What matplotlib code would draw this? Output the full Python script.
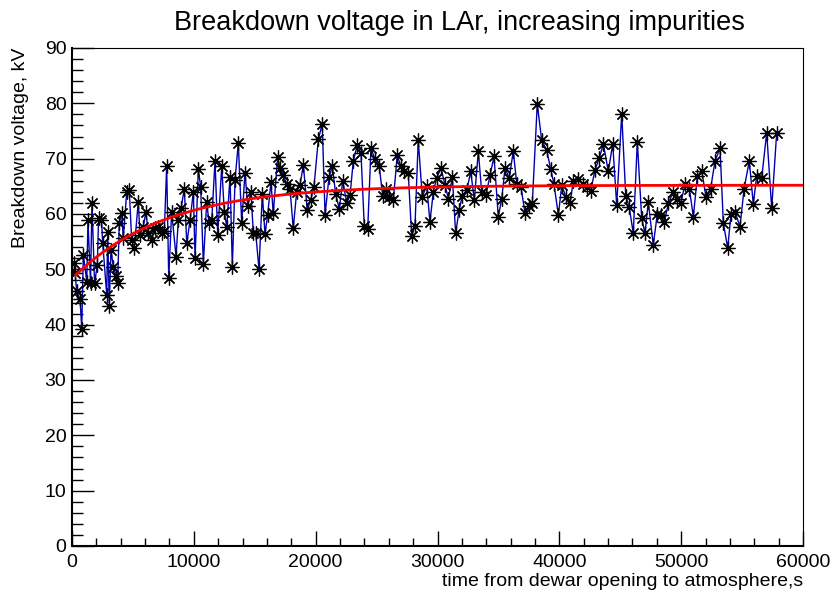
import numpy as np
import matplotlib.pyplot as plt
from matplotlib.ticker import MultipleLocator

plt.rcParams['font.family'] = ['Liberation Sans', 'DejaVu Sans']

# time from dewar opening, s
time_s = [
    160, 250, 390, 660, 800, 930, 1210, 1310, 1520, 1640,
    1850, 2080, 2180, 2420, 2520, 2850, 2930, 3060, 3200, 3390,
    3610, 3750, 3880, 4080, 4210, 4490, 4700, 4900, 5110, 5440,
    5580, 5850, 6070, 6260, 6540, 6810, 7080, 7360, 7580, 7770,
    7940, 8180, 8540, 8730, 8950, 9220, 9420,
    9690, 9960, 10100, 10370, 10560, 10780, 11060, 11250, 11470, 11740,
    11960, 12290, 12500, 12700, 12970, 13160, 13380, 13650, 13930, 14200,
    14420, 14690, 14880, 15080, 15350, 15620, 15840, 16060, 16330, 16520,
    16880, 17070, 17340, 17620, 17890, 18160, 18440, 18710, 18990,
    19310, 19590, 19860, 20220, 20540, 20770, 21090, 21370, 21640, 21940,
    22220, 22550, 22820, 23090, 23420, 23720, 23990, 24270, 24540, 24870,
    25220, 25500, 25770, 26040, 26370, 26700, 26980, 27250, 27600, 27880,
    28150, 28420,
    28750, 29110, 29380, 29660, 29930, 30290, 30620, 30890, 31220, 31490,
    31770, 32040, 32400, 32730, 33020, 33350, 33630, 33980, 34310, 34640,
    34990, 35270, 35540, 35890, 36220, 36500, 36850, 37180, 37510, 37780,
    38190, 38550, 38960, 39290, 39560, 39920, 40200, 40550, 40880, 41150,
    41560, 41920, 42250, 42580, 42930, 43280, 43610, 44020, 44380, 44710,
    45120, 45450, 45740, 46070, 46400, 46760, 47030, 47300,
    47710, 48040, 48320, 48620, 48950, 49310, 49630, 49960, 50320, 50670,
    51000, 51330, 51690, 52040, 52420, 52780, 53190, 53460, 53820, 54090,
    54420, 54830, 55160, 55590, 55920, 56200, 56610, 57020, 57430, 57840,
]

# breakdown voltage, kV
voltage_kv = [
    51.2, 49.3, 46.0, 44.6, 39.3, 52.6, 47.8, 58.9, 47.5, 62.0,
    47.5, 50.8, 59.2, 59.0, 54.8, 45.4, 56.8, 43.3, 53.5, 50.5,
    48.8, 47.5, 58.4, 60.2, 55.6, 64.0, 64.3, 55.3, 53.8, 62.2,
    56.2, 57.7, 60.4, 56.5, 55.3, 57.4, 57.7, 56.5, 57.0, 68.7,
    48.4, 60.4, 52.3, 59.0, 61.0, 64.6, 54.7,
    58.9, 64.0, 52.0, 68.1, 64.9, 51.0, 62.2, 58.3, 58.9, 69.6,
    56.2, 68.6, 60.4, 57.7, 66.7, 50.4, 66.1, 72.8, 58.3, 67.5,
    61.4, 64.0, 56.6, 56.5, 50.0, 63.7, 56.4, 59.8, 65.8, 60.1,
    70.3, 68.3, 67.0, 65.5, 64.6, 57.4, 64.0, 65.2, 68.9,
    60.7, 62.5, 64.9, 73.5, 76.3, 59.8, 66.6, 68.7, 63.6, 60.9,
    66.0, 62.0, 63.4, 69.6, 72.5, 71.0, 57.8, 57.2, 71.9, 69.9,
    68.6, 63.3, 64.5, 63.0, 62.5, 70.7, 68.6, 67.8, 67.4, 56.0,
    57.8, 73.4,
    63.1, 65.1, 58.6, 64.0, 66.5, 68.3, 65.2, 62.8, 66.6, 56.5,
    60.7, 63.3, 64.3, 67.7, 62.5, 71.3, 63.9, 63.4, 67.0, 70.4,
    59.5, 62.7, 68.3, 66.5, 71.4, 65.5, 64.9, 60.2, 61.4, 61.9,
    79.9, 73.3, 71.6, 68.1, 65.4, 59.8, 65.2, 63.0, 61.9, 66.0,
    66.3, 65.4, 64.9, 64.2, 68.0, 70.1, 72.7, 67.7, 72.7, 61.6,
    78.1, 63.3, 61.2, 56.5, 73.1, 59.2, 56.5, 62.2,
    54.4, 60.0, 59.8, 58.6, 61.9, 63.9, 62.8, 61.9, 65.4, 64.6,
    59.5, 66.9, 67.8, 63.0, 64.6, 69.6, 71.9, 58.4, 53.8, 60.0,
    60.4, 57.7, 64.5, 69.6, 61.8, 66.9, 66.5, 74.7, 61.0, 74.7,
]

# exponential saturation fit: V = plateau - amp * exp(-t / tau)
fit_plateau = 65.2
fit_amp = 16.9
fit_tau = 7600.0
fit_range = (300, 60000)

fig = plt.figure(figsize=(8.31, 5.94), dpi=100)
ax = fig.add_axes([72 / 831, 1 - 546 / 594, 731 / 831, 498 / 594])

ax.plot(time_s, voltage_kv, color='#0000b0', lw=1.0, zorder=2)
ax.plot(time_s, voltage_kv, ls='none', marker=(8, 2, 0), ms=10, mew=0.9,
        color='black', zorder=3)

t_fit = np.linspace(fit_range[0], fit_range[1], 400)
ax.plot(t_fit, fit_plateau - fit_amp * np.exp(-t_fit / fit_tau),
        color='#ff0000', lw=2.0, zorder=4)

ax.set_xlim(0, 60000)
ax.set_ylim(0, 90)
ax.xaxis.set_major_locator(MultipleLocator(10000))
ax.xaxis.set_minor_locator(MultipleLocator(2000))
ax.yaxis.set_major_locator(MultipleLocator(10))
ax.yaxis.set_minor_locator(MultipleLocator(2))

ax.tick_params(axis='both', which='both', direction='in', top=False, right=False,
               labelsize=14, width=1.0)
ax.tick_params(axis='x', which='major', length=11, pad=6)
ax.tick_params(axis='x', which='minor', length=5.5)
ax.tick_params(axis='y', which='major', length=16, pad=4)
ax.tick_params(axis='y', which='minor', length=8)

for side in ['left', 'bottom']:
    ax.spines[side].set_linewidth(1.5)
for side in ['top', 'right']:
    ax.spines[side].set_linewidth(0.8)

fig.text(459.5 / 831, 1 - 30 / 594, 'Breakdown voltage in LAr, increasing impurities',
         fontsize=19.5, ha='center', va='baseline')
fig.text(803 / 831, 1 - 586 / 594, 'time from dewar opening to atmosphere,s',
         fontsize=14, ha='right', va='baseline')
fig.text(12 / 831, 1 - 48 / 594, 'Breakdown voltage, kV',
         fontsize=14, ha='right', va='top', rotation=90, rotation_mode='anchor')

fig.savefig('out.png', dpi=100)
